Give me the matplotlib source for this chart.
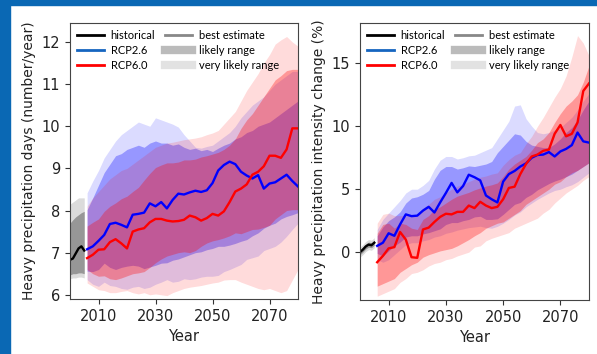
import matplotlib
matplotlib.use('Agg')
import matplotlib.pyplot as plt
import numpy as np
from matplotlib.lines import Line2D
from matplotlib.patches import Rectangle

# years
hist_years = [2000, 2001, 2002, 2003, 2004, 2005]
proj_years = list(range(2006, 2081, 2))

# ---- left panel: heavy precipitation days (number/year) ----
days_hist = [6.83, 6.86, 6.98, 7.10, 7.15, 7.05]
days_hist_lik = ([6.47, 6.50, 6.50, 6.52, 6.52, 6.50], [7.70, 7.78, 7.85, 7.90, 7.95, 7.98])
days_hist_vlik = ([6.38, 6.40, 6.40, 6.42, 6.42, 6.40], [8.15, 8.20, 8.25, 8.30, 8.30, 8.30])

days_26 = [7.08, 7.15, 7.28, 7.42, 7.68, 7.71, 7.66, 7.60, 7.90, 7.92, 7.95, 8.17, 8.10,
           8.20, 8.05, 8.25, 8.40, 8.38, 8.43, 8.47, 8.44, 8.48, 8.65, 8.95, 9.08, 9.16,
           9.10, 8.92, 8.83, 8.76, 8.84, 8.52, 8.64, 8.67, 8.76, 8.85, 8.70, 8.57]
days_26_lik_lo = [6.56, 6.55, 6.60, 6.75, 6.65, 6.60, 6.65, 6.68, 6.70, 6.68, 6.62, 6.66, 6.70,
                  6.75, 6.76, 6.82, 6.85, 6.90, 6.95, 7.00, 7.02, 7.07, 7.10, 7.15, 7.15, 7.18,
                  7.22, 7.27, 7.31, 7.40, 7.47, 7.58, 7.65, 7.70, 7.80, 7.86, 7.90, 7.95]
days_26_lik_hi = [8.02, 8.30, 8.60, 8.90, 9.10, 9.30, 9.35, 9.45, 9.50, 9.55, 9.50, 9.60, 9.65,
                  9.60, 9.60, 9.55, 9.58, 9.50, 9.45, 9.48, 9.42, 9.45, 9.40, 9.48, 9.55, 9.60,
                  9.70, 9.75, 9.85, 9.90, 10.0, 10.05, 10.1, 10.2, 10.3, 10.4, 10.5, 10.6]
days_26_vlik_lo = [6.36, 6.25, 6.20, 6.30, 6.22, 6.20, 6.15, 6.13, 6.18, 6.20, 6.15, 6.18, 6.25,
                   6.30, 6.36, 6.30, 6.32, 6.38, 6.36, 6.38, 6.42, 6.44, 6.44, 6.46, 6.55, 6.60,
                   6.66, 6.72, 6.84, 6.88, 6.92, 7.05, 7.10, 7.15, 7.25, 7.39, 7.55, 7.70]
days_26_vlik_hi = [8.42, 8.70, 8.95, 9.25, 9.45, 9.65, 9.80, 9.90, 10.0, 10.1, 10.05, 10.0, 10.2,
                   10.15, 10.1, 10.05, 9.98, 9.80, 9.65, 9.50, 9.48, 9.52, 9.55, 9.65, 9.75, 9.85,
                   10.0, 10.2, 10.35, 10.5, 10.6, 10.7, 10.85, 11.0, 11.1, 11.2, 11.3, 11.3]

days_60 = [6.87, 6.95, 7.07, 7.08, 7.25, 7.32, 7.22, 7.10, 7.50, 7.55, 7.58, 7.72, 7.80,
           7.80, 7.76, 7.74, 7.75, 7.78, 7.88, 7.84, 7.76, 7.82, 7.92, 7.88, 7.98, 8.20,
           8.45, 8.52, 8.62, 8.85, 8.92, 9.05, 9.30, 9.30, 9.25, 9.45, 9.95, 9.95]
days_60_lik_lo = [6.60, 6.50, 6.44, 6.45, 6.38, 6.36, 6.40, 6.45, 6.50, 6.52, 6.55, 6.65, 6.76,
                  6.85, 6.92, 6.96, 7.00, 7.02, 7.00, 7.05, 7.15, 7.23, 7.28, 7.31, 7.35, 7.40,
                  7.47, 7.45, 7.50, 7.55, 7.56, 7.60, 7.65, 7.80, 7.90, 8.00, 8.02, 8.02]
days_60_lik_hi = [7.63, 7.72, 7.80, 7.98, 8.10, 8.18, 8.28, 8.34, 8.45, 8.55, 8.72, 8.88, 9.02,
                  9.08, 9.13, 9.13, 9.15, 9.20, 9.20, 9.22, 9.27, 9.30, 9.34, 9.38, 9.45, 9.55,
                  9.70, 9.95, 10.15, 10.3, 10.5, 10.7, 10.9, 11.1, 11.2, 11.32, 11.35, 11.35]
days_60_vlik_lo = [6.28, 6.20, 6.12, 6.10, 6.05, 6.05, 6.08, 6.10, 6.05, 6.02, 6.05, 6.00, 6.02,
                   6.00, 5.98, 6.05, 6.10, 6.15, 6.18, 6.20, 6.22, 6.25, 6.28, 6.30, 6.35, 6.36,
                   6.36, 6.30, 6.25, 6.20, 6.15, 6.12, 6.15, 6.10, 6.05, 6.10, 6.35, 6.60]
days_60_vlik_hi = [8.10, 8.30, 8.45, 8.60, 8.75, 8.85, 8.95, 9.00, 9.10, 9.20, 9.30, 9.40, 9.50,
                   9.55, 9.60, 9.62, 9.65, 9.68, 9.70, 9.72, 9.75, 9.80, 9.84, 9.90, 10.05, 10.2,
                   10.35, 10.6, 10.85, 11.05, 11.25, 11.5, 11.7, 11.95, 12.05, 12.13, 12.0, 11.9]

# ---- right panel: heavy precipitation intensity change (%) ----
int_hist = [0.0, 0.2, 0.45, 0.6, 0.55, 0.75]
int_hist_lik = ([-0.2, 0.0, 0.25, 0.4, 0.35, 0.55], [0.2, 0.4, 0.65, 0.8, 0.75, 0.95])
int_hist_vlik = ([-0.4, -0.2, 0.05, 0.2, 0.15, 0.35], [0.4, 0.6, 0.85, 1.0, 0.95, 1.15])

int_26 = [0.5, 0.75, 1.5, 1.3, 2.2, 3.0, 2.86, 2.9, 3.3, 3.6, 3.15, 3.95, 4.7,
          5.5, 4.75, 5.25, 6.15, 5.95, 5.7, 4.5, 4.2, 3.95, 5.6, 6.2, 6.45, 6.8,
          7.05, 7.5, 7.72, 7.75, 7.95, 7.6, 8.0, 8.2, 8.5, 9.5, 8.8, 8.7]
int_26_lik_lo = [-0.1, -0.3, 0.1, 0.5, 0.8, 1.2, 1.3, 1.3, 1.45, 1.55, 1.7, 1.85, 2.2,
                 2.35, 2.35, 2.5, 2.6, 2.8, 2.85, 2.6, 2.6, 2.65, 3.0, 3.4, 3.8, 3.95,
                 4.35, 4.6, 4.95, 5.2, 5.45, 5.65, 5.8, 6.0, 6.2, 6.5, 6.8, 7.1]
int_26_lik_hi = [1.3, 2.0, 2.5, 2.8, 3.2, 3.9, 4.3, 4.4, 4.6, 4.9, 5.8, 6.5, 6.8,
                 6.8, 6.6, 6.7, 6.85, 6.8, 6.9, 7.0, 7.2, 7.9, 8.4, 8.9, 9.4, 9.3,
                 8.8, 8.5, 8.4, 8.3, 8.3, 8.6, 9.0, 9.5, 9.9, 10.5, 11.3, 12.0]
int_26_vlik_lo = [-0.6, -0.8, -0.6, -0.2, 0.2, 0.6, 0.75, 0.75, 0.9, 1.0, 1.2, 1.3, 1.5,
                  1.6, 1.75, 1.85, 1.95, 2.0, 2.06, 1.95, 1.9, 2.05, 2.3, 2.6, 2.95, 3.2,
                  3.6, 3.9, 4.2, 4.45, 4.7, 4.9, 5.0, 5.2, 5.35, 5.6, 5.95, 6.3]
int_26_vlik_hi = [1.8, 2.6, 3.1, 3.6, 4.1, 4.7, 5.0, 5.0, 5.3, 5.7, 6.6, 7.3, 7.6,
                  7.6, 7.4, 7.5, 7.65, 7.7, 7.9, 8.1, 8.3, 9.0, 9.7, 10.4, 11.6, 11.7,
                  10.6, 10.0, 9.5, 9.4, 9.5, 9.7, 9.9, 10.3, 10.7, 11.3, 12.0, 12.6]

int_60 = [-0.8, -0.3, 0.3, 0.4, 1.6, 1.0, -0.4, -0.45, 1.8, 1.95, 2.4, 2.8, 3.05,
          3.0, 3.2, 3.2, 3.7, 3.5, 4.0, 3.7, 3.5, 3.6, 4.2, 5.1, 5.2, 6.2,
          7.0, 7.6, 7.75, 8.05, 8.15, 9.4, 10.1, 9.2, 9.4, 10.3, 12.8, 13.4]
int_60_lik_lo = [-2.7, -2.5, -2.3, -2.1, -1.6, -1.3, -1.0, -0.8, -0.4, -0.2, -0.05, 0.1, 0.2,
                 0.3, 0.5, 0.75, 1.0, 1.3, 1.55, 1.9, 2.1, 2.3, 2.4, 2.7, 3.0, 3.3,
                 3.8, 4.1, 4.4, 4.7, 5.0, 5.4, 5.6, 6.0, 6.3, 6.5, 6.8, 7.1]
int_60_lik_hi = [1.5, 2.2, 2.3, 1.9, 2.3, 2.2, 1.9, 1.8, 2.6, 2.9, 3.4, 3.6, 3.9,
                 4.2, 4.45, 4.6, 4.75, 4.95, 5.1, 5.25, 5.35, 5.5, 6.0, 6.6, 7.0, 7.3,
                 7.6, 8.1, 8.7, 9.0, 9.5, 10.3, 11.0, 11.6, 12.0, 12.5, 13.5, 14.8]
int_60_vlik_lo = [-3.5, -3.3, -3.1, -2.9, -2.4, -2.1, -1.7, -1.6, -1.4, -1.1, -0.9, -0.8, -0.6,
                  -0.5, -0.3, -0.15, 0.0, 0.4, 0.5, 0.9, 1.1, 1.25, 1.4, 1.55, 1.9, 2.1,
                  2.3, 2.5, 2.7, 3.1, 3.4, 3.9, 4.3, 4.7, 5.0, 5.3, 5.7, 6.0]
int_60_vlik_hi = [2.3, 3.0, 3.1, 2.9, 2.9, 2.9, 2.85, 2.9, 3.5, 3.8, 4.2, 4.4, 4.7,
                  5.0, 5.25, 5.4, 5.6, 5.8, 5.95, 6.05, 6.2, 6.3, 6.9, 7.35, 7.7, 7.9,
                  8.6, 9.2, 10.0, 10.7, 11.5, 12.3, 13.0, 14.0, 15.5, 17.2, 16.6, 15.6]

x_ticks = [2010, 2030, 2050, 2070]
legend_labels = ['historical', 'RCP2.6', 'RCP6.0', 'best estimate', 'likely range', 'very likely range']

A_VLIK = 0.14
A_LIK = 0.31


def draw_panel(ax, hist, hist_lik, hist_vlik, s26, s60, ylabel, ylim, yticks):
    # historical
    ax.fill_between(hist_years, hist_vlik[0], hist_vlik[1], color='k', alpha=A_VLIK, lw=0)
    ax.fill_between(hist_years, hist_lik[0], hist_lik[1], color='k', alpha=A_LIK, lw=0)
    # scenarios, bands first
    for s, c in ((s26, 'blue'), (s60, 'red')):
        ax.fill_between(proj_years, s['vlo'], s['vhi'], color=c, alpha=A_VLIK, lw=0)
        ax.fill_between(proj_years, s['llo'], s['lhi'], color=c, alpha=A_LIK, lw=0)
    ax.plot(hist_years, hist, color='k', lw=1.7)
    ax.plot(proj_years, s26['med'], color='blue', lw=1.7)
    ax.plot(proj_years, s60['med'], color='red', lw=1.7)

    ax.set_xlim(2000, 2080)
    ax.set_ylim(*ylim)
    ax.set_xticks(x_ticks)
    ax.set_yticks(yticks)
    ax.tick_params(labelsize=10.5, color='#333333', labelcolor='#222222')
    for sp in ax.spines.values():
        sp.set_color('#444444')
    ax.set_xlabel('Year', fontsize=10.5, color='#222222')
    ax.set_ylabel(ylabel, fontsize=10, color='#222222')

    handles = [Line2D([], [], color='k', lw=2),
               Line2D([], [], color='#1565c0', lw=2),
               Line2D([], [], color='red', lw=2),
               Line2D([], [], color='#888888', lw=2),
               Line2D([], [], color='#bbbbbb', lw=6),
               Line2D([], [], color='#e2e2e2', lw=6)]
    ax.legend(handles, legend_labels, ncol=2, loc='upper left', frameon=False,
              prop={'family': 'Lato', 'size': 8}, handlelength=2.4, handletextpad=0.6,
              columnspacing=0.9, labelspacing=0.35, borderaxespad=0.3, borderpad=0.35)


fig = plt.figure(figsize=(5.97, 3.54), dpi=100)

# blue frame on left and top
fig.patches.append(Rectangle((0, 0), 10 / 597, 1, transform=fig.transFigure,
                             color='#0a68b4', zorder=0))
fig.patches.append(Rectangle((0, 1 - 5 / 354), 1, 5 / 354, transform=fig.transFigure,
                             color='#0a68b4', zorder=0))

ax1 = fig.add_axes([70 / 597, 55 / 354, 228 / 597, 276 / 354])
ax2 = fig.add_axes([360 / 597, 54 / 354, 229 / 597, 277 / 354])

draw_panel(ax1, days_hist, days_hist_lik, days_hist_vlik,
           dict(med=days_26, llo=days_26_lik_lo, lhi=days_26_lik_hi,
                vlo=days_26_vlik_lo, vhi=days_26_vlik_hi),
           dict(med=days_60, llo=days_60_lik_lo, lhi=days_60_lik_hi,
                vlo=days_60_vlik_lo, vhi=days_60_vlik_hi),
           'Heavy precipitation days (number/year)', (5.9, 12.45), [6, 7, 8, 9, 10, 11, 12])

draw_panel(ax2, int_hist, int_hist_lik, int_hist_vlik,
           dict(med=int_26, llo=int_26_lik_lo, lhi=int_26_lik_hi,
                vlo=int_26_vlik_lo, vhi=int_26_vlik_hi),
           dict(med=int_60, llo=int_60_lik_lo, lhi=int_60_lik_hi,
                vlo=int_60_vlik_lo, vhi=int_60_vlik_hi),
           'Heavy precipitation intensity change (%)', (-3.8, 18.2), [0, 5, 10, 15])

fig.savefig('out.png', dpi=100)
